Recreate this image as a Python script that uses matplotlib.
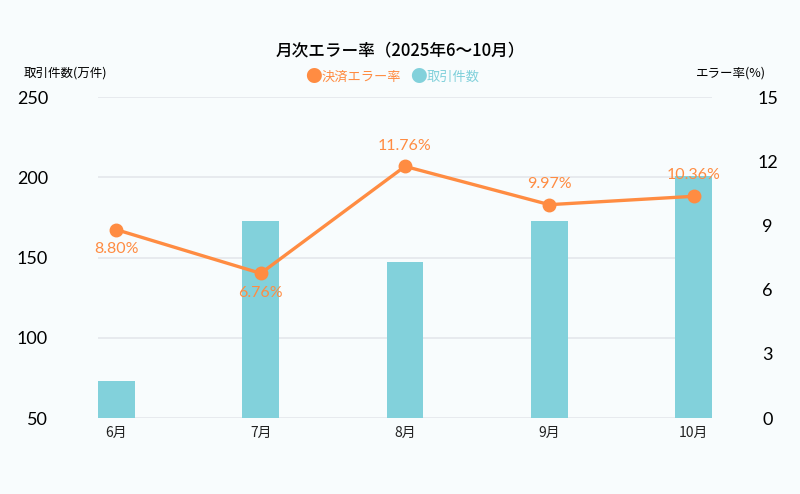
import matplotlib.pyplot as plt
import numpy as np

plt.rcParams['font.family'] = ['Noto Sans CJK JP', 'DejaVu Sans']

# data
months = ["6月", "7月", "8月", "9月", "10月"]
counts = [73, 173, 147, 173, 201]          # 取引件数(万件)
error_rate = [8.80, 6.76, 11.76, 9.97, 10.36]  # 決済エラー率(%)
label_above = [False, False, True, True, True]

bar_color = "#82D1DB"
line_color = "#FF8C42"
bg = "#F8FCFD"
num_font = ['Lato', 'DejaVu Sans']

fig = plt.figure(figsize=(8, 4.94), dpi=100, facecolor=bg)
ax = fig.add_axes([0.1225, 0.1538, 0.7675, 0.6498], facecolor=bg)
x = np.arange(len(months))

ax.bar(x, counts, width=0.256, color=bar_color, zorder=2)
ax.set_ylim(50, 250)
ax.set_yticks([50, 100, 150, 200, 250])
ax.set_xlim(-0.128, len(months) - 1 + 0.128)
ax.set_xticks(x)
ax.set_xticklabels(months, fontsize=10, color='#222222')
ax.grid(axis='y', color='#E4E7EB', lw=1.2, zorder=0)
for s in ax.spines.values():
    s.set_visible(False)
ax.tick_params(axis='y', length=0, pad=36, labelsize=13)
ax.tick_params(axis='x', length=0, pad=6)
for lab in ax.get_yticklabels():
    lab.set_family(num_font)

ax2 = ax.twinx()
ax2.plot(x, error_rate, color=line_color, lw=2.4, marker='o', ms=9, zorder=3)
ax2.set_ylim(0, 15)
ax2.set_yticks([0, 3, 6, 9, 12, 15])
for s in ax2.spines.values():
    s.set_visible(False)
ax2.tick_params(axis='y', length=0, pad=40, labelsize=13)
for lab in ax2.get_yticklabels():
    lab.set_horizontalalignment('center')
    lab.set_family(num_font)

for xi, v, up in zip(x, error_rate, label_above):
    off = 15 if up else -14
    ax2.annotate(f"{v:.2f}%", (xi, v), xytext=(0, off), textcoords='offset points',
                 ha='center', va='center', color=line_color, fontsize=11.5,
                 family=num_font)

fig.text(0.5, 0.898, "月次エラー率（2025年6〜10月）", ha='center', va='center',
         fontsize=12, fontweight='medium')
fig.text(0.03, 0.852, "取引件数(万件)", ha='left', va='center', fontsize=9)
fig.text(0.957, 0.852, "エラー率(%)", ha='right', va='center', fontsize=9)

# legend
fig.text(0.392, 0.843, "●", color=line_color, ha='center', va='center', fontsize=12)
fig.text(0.402, 0.843, "決済エラー率", color=line_color, ha='left', va='center', fontsize=9.5)
fig.text(0.523, 0.843, "●", color=bar_color, ha='center', va='center', fontsize=12)
fig.text(0.533, 0.843, "取引件数", color=bar_color, ha='left', va='center', fontsize=9.5)

plt.savefig("out.png", dpi=100, facecolor=bg)
